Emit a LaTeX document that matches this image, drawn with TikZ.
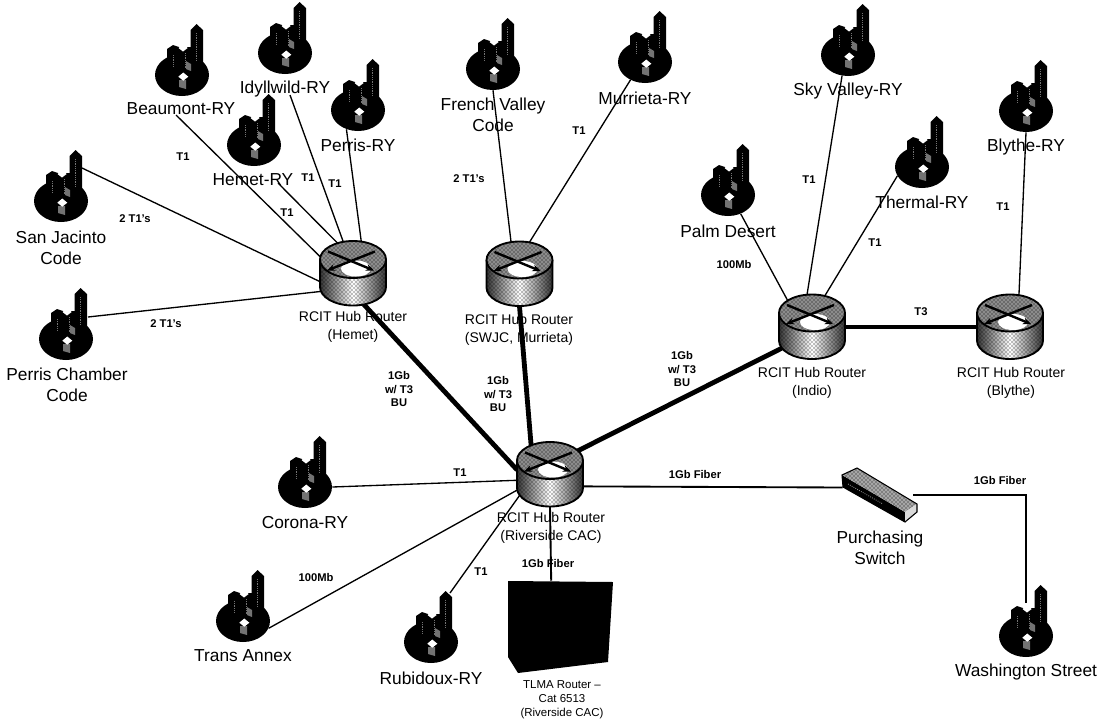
\documentclass[tikz,border=0pt]{standalone}
\usepackage{fontspec}
\setmainfont{Liberation Sans}
\usetikzlibrary{positioning, shapes.geometric, arrows.meta, patterns}

\tikzset{
  site/.style={ellipse, fill=black, inner sep=0pt, minimum width=40.5pt, minimum height=31.5pt},
  hub/.style={ellipse, inner sep=0pt, minimum width=49.5pt, minimum height=48pt},
  sitelabel/.style={align=center, inner sep=0pt, font=\fontsize{13}{15.8}\selectfont},
  hublabel/.style={align=center, inner sep=0pt, font=\fontsize{10.5}{13}\selectfont},
  linklabel/.style={align=center, inner sep=0pt, font=\fontsize{8.4}{10.3}\selectfont\bfseries},
  thinlink/.style={line width=1pt},
  fiberlink/.style={line width=1.4pt},
  thicklink/.style={line width=3.6pt},
  towers/.pic={
    \fill[black] (8.5,0) -- (8.5,-45) -- (14.5,-51) -- (21,-45) -- (21,0) -- cycle;
    \fill[black] (-15,0) -- (-15,-26) -- (-9,-30) -- (-3,-28) -- (9,-28) -- (9,0) -- cycle;
    \fill[black!55] (4,-14) -- (9,-11) -- (9,-4) -- (4,-6) -- cycle;
    \fill[black!55] (-3,5) -- (4,5) -- (4,14) -- (-3,12) -- cycle;
    \draw[black!55, densely dotted, line width=0.35pt] (3,-22) -- (3,-6);
    \draw[black!55, densely dotted, line width=0.35pt] (-9,-20) -- (-9,-8);
    \draw[black!55, densely dotted, line width=0.35pt] (14.5,-42) -- (14.5,-14);
    \fill[white] (1,-31) -- (5.7,-27) -- (1,-23.5) -- (-3.5,-27) -- cycle;
    \fill[white] (1.3,-2.5) -- (6.3,1.7) -- (1.3,5.7) -- (-3.7,1.7) -- cycle;
  },
  router/.pic={
    \shade[left color=black!80, right color=black!80, middle color=white]
      (-33,-14) -- (-33,13.5) arc[start angle=180, end angle=0, x radius=33, y radius=18.5] -- (33,-14) -- cycle;
    \fill[pattern=crosshatch dots, pattern color=black]
      (-33,-14) -- (-33,13.5) arc[start angle=180, end angle=0, x radius=33, y radius=18.5] -- (33,-14) -- cycle;
    \draw[line width=1.4pt] (-33,-14) -- (-33,13.5) arc[start angle=180, end angle=0, x radius=33, y radius=18.5] -- (33,-14);
    \fill[black!45] (0,-14) ellipse[x radius=33, y radius=18.5];
    \fill[pattern=crosshatch dots, pattern color=black] (0,-14) ellipse[x radius=33, y radius=18.5];
    \fill[white] (3,-5) ellipse[x radius=15, y radius=8];
    \draw[line width=1.4pt] (0,-14) ellipse[x radius=33, y radius=18.5];
    \draw[line width=1.8pt, -{Stealth[length=6pt, width=5pt]}] (-25,-22) -- (21,-3);
    \draw[line width=1.8pt, -{Stealth[length=6pt, width=5pt]}] (22,-22) -- (-26,-3);
  },
  switchbox/.pic={
    \fill[black] (-36,-20) -- (27,17) -- (27,27) -- (-35,-8) -- cycle;
    \fill[black!35] (-36,-20) -- (-21,-27) -- (39,9) -- (27,17) -- cycle;
    \fill[pattern=crosshatch dots, pattern color=black] (-36,-20) -- (-21,-27) -- (39,9) -- (27,17) -- cycle;
    \fill[black!15] (27,17) -- (39,9) -- (39,17) -- (27,27) -- cycle;
    \draw[black, line width=0.8pt] (-36,-20) -- (-21,-27) -- (39,9) -- (39,17) -- (27,27) -- (-35,-8) -- cycle;
    \draw[black!40, densely dotted, line width=0.6pt] (-30,-11) -- (5,9);
  },
  blackbox/.pic={
    \fill[black] (-52,-45) -- (53,-44) -- (48,36) -- (-42,47) -- (-52,31) -- cycle;
  }
}

\begin{document}
\begin{tikzpicture}[x=0.75pt, y=-0.75pt]
  \useasboundingbox (0,0) rectangle (1099,722);

  \node[site] (beaumont) at (182,75) {};
  \node[site] (idyllwild) at (285,53) {};
  \node[site] (perris) at (358,110) {};
  \node[site] (hemetry) at (254,145) {};
  \node[site] (sanjacinto) at (61,201) {};
  \node[site] (chamber) at (66,339) {};
  \node[site] (corona) at (305,487) {};
  \node[site] (transannex) at (243,621) {};
  \node[site] (rubidoux) at (431,642) {};
  \node[site] (frenchvalley) at (493,69) {};
  \node[site] (murrietary) at (645,62) {};
  \node[site] (palmdesert) at (728,195) {};
  \node[site] (skyvalley) at (848,55) {};
  \node[site] (thermal) at (922,167) {};
  \node[site] (blythery) at (1026,111) {};
  \node[site] (washington) at (1026,636) {};

  \node[hub] (hemet) at (353,273.5) {};
  \node[hub] (swjc) at (519.5,274) {};
  \node[hub] (indio) at (812,327) {};
  \node[hub] (blythe) at (1010,327) {};
  \node[hub] (riverside) at (550,474.5) {};
  \node[inner sep=0pt, minimum width=52.5pt, minimum height=40.5pt] (purchasing) at (878,495) {};
  \node[inner sep=0pt, minimum width=78.75pt, minimum height=67.5pt] (tlma) at (560,626) {};

  \node[sitelabel] (beaumontlbl) at (181,109) {Beaumont-RY};
  \node[sitelabel] (idyllwildlbl) at (285,89) {Idyllwild-RY};
  \node[sitelabel] (perrislbl) at (358,145) {Perris-RY};
  \node[sitelabel] (hemetrylbl) at (253,180) {Hemet-RY};
  \node[sitelabel] (sanjacintolbl) at (61,248) {San Jacinto\\Code};
  \node[sitelabel] (chamberlbl) at (67,385) {Perris Chamber\\Code};
  \node[sitelabel] (coronalbl) at (305,523) {Corona-RY};
  \node[sitelabel] (transannexlbl) at (243,656) {Trans Annex};
  \node[sitelabel] (rubidouxlbl) at (431,678) {Rubidoux-RY};
  \node[sitelabel] (frenchvalleylbl) at (493,115) {French Valley\\Code};
  \node[sitelabel] (murrietarylbl) at (645,98) {Murrieta-RY};
  \node[sitelabel] (palmdesertlbl) at (728,231) {Palm Desert};
  \node[sitelabel] (skyvalleylbl) at (848,91) {Sky Valley-RY};
  \node[sitelabel] (thermallbl) at (922,202) {Thermal-RY};
  \node[sitelabel] (blytherylbl) at (1026,147) {Blythe-RY};
  \node[sitelabel] (washingtonlbl) at (1026,672) {Washington Street};
  \node[sitelabel] (purchasinglbl) at (880,548) {Purchasing\\Switch};

  \node[hublabel] (hemetlbl) at (353,327) {RCIT Hub Router\\(Hemet)};
  \node[hublabel] (swjclbl) at (519,330) {RCIT Hub Router\\(SWJC, Murrieta)};
  \node[hublabel] (indiolbl) at (812,383) {RCIT Hub Router\\(Indio)};
  \node[hublabel] (blythelbl) at (1011,383) {RCIT Hub Router\\(Blythe)};
  \node[hublabel] (riversidelbl) at (551,528) {RCIT Hub Router\\(Riverside CAC)};
  \node[linklabel, font=\fontsize{8.6}{10.5}\selectfont] (tlmalbl) at (562,700) {TLMA Router --\\Cat 6513\\(Riverside CAC)};

  \coordinate (beaumontend) at (176,115);
  \coordinate (idyllwildend) at (290,95);
  \coordinate (hemetryend) at (278,183);
  \coordinate (sanjacintoend) at (82,168);
  \coordinate (chamberend) at (88,317);
  \coordinate (rubidouxend) at (450,593);
  \coordinate (washingtonend) at (1026,603);

  \draw[thinlink] (beaumontend) -- (hemet.155);
  \draw[thinlink] (idyllwildend) -- (hemet.107);
  \draw[thinlink] (perris.239) -- (hemet.75);
  \draw[thinlink] (hemetryend) -- (hemet.116);
  \draw[thinlink] (sanjacintoend) -- (hemet.195);
  \draw[thinlink] (chamberend) -- (hemet.212);
  \draw[thinlink] (frenchvalley.270) -- (swjc.105);
  \draw[thinlink] (murrietary.231) -- (swjc.73);
  \draw[thinlink] (palmdesert.304) -- (indio.134);
  \draw[thinlink] (skyvalley.254) -- (indio.99);
  \draw[thinlink] (thermal.200) -- (indio.68);
  \draw[thinlink] (blythery.270) -- (blythe.74);
  \draw[thinlink] (corona.0) -- (riverside.190);
  \draw[thinlink] (transannex.344) -- (riverside.205);
  \draw[thinlink] (rubidouxend) -- (riverside.212);
  \draw[fiberlink] (riverside.270) -- (tlma.101);
  \draw[fiberlink] (riverside.339) -- (purchasing.168);
  \draw[fiberlink] (purchasing.0) -| (washingtonend);
  \draw[thicklink] (hemet.289) -- (riverside.172);
  \draw[thicklink] (swjc.270) -- (riverside.125);
  \draw[thicklink] (indio.216) -- (riverside.42);
  \draw[line width=3pt] (indio.0) -- (blythe.180);

  \foreach \n in {beaumont, idyllwild, perris, hemetry, sanjacinto, chamber, corona, transannex, rubidoux, frenchvalley, murrietary, palmdesert, skyvalley, thermal, blythery, washington}
    \pic at (\n) {towers};
  \foreach \n in {hemet, swjc, indio, blythe, riverside}
    \pic at (\n) {router};
  \pic at (purchasing) {switchbox};
  \pic at (tlma) {blackbox};

  \node[linklabel] (l1) at (183,157) {T1};
  \node[linklabel] (l2) at (135,219) {2 T1's};
  \node[linklabel] (l3) at (308,178) {T1};
  \node[linklabel] (l4) at (335,184) {T1};
  \node[linklabel] (l5) at (287,213) {T1};
  \node[linklabel] (l6) at (166,324) {2 T1's};
  \node[linklabel] (l7) at (399,389) {1Gb\\w/ T3\\BU};
  \node[linklabel] (l8) at (498,394) {1Gb\\w/ T3\\BU};
  \node[linklabel] (l9) at (682,369) {1Gb\\w/ T3\\BU};
  \node[linklabel] (l10) at (579,131) {T1};
  \node[linklabel] (l11) at (469,179) {2 T1's};
  \node[linklabel] (l12) at (734,264) {100Mb};
  \node[linklabel] (l13) at (809,180) {T1};
  \node[linklabel] (l14) at (875,243) {T1};
  \node[linklabel] (l15) at (1003,207) {T1};
  \node[linklabel] (l16) at (921,312) {T3};
  \node[linklabel] (l17) at (460,473) {T1};
  \node[linklabel] (l18) at (316,577) {100Mb};
  \node[linklabel] (l19) at (481,572) {T1};
  \node[linklabel] (l20) at (695,474) {1Gb Fiber};
  \node[linklabel] (l21) at (548,563) {1Gb Fiber};
  \node[linklabel] (l22) at (1000,480) {1Gb Fiber};
\end{tikzpicture}
\end{document}
